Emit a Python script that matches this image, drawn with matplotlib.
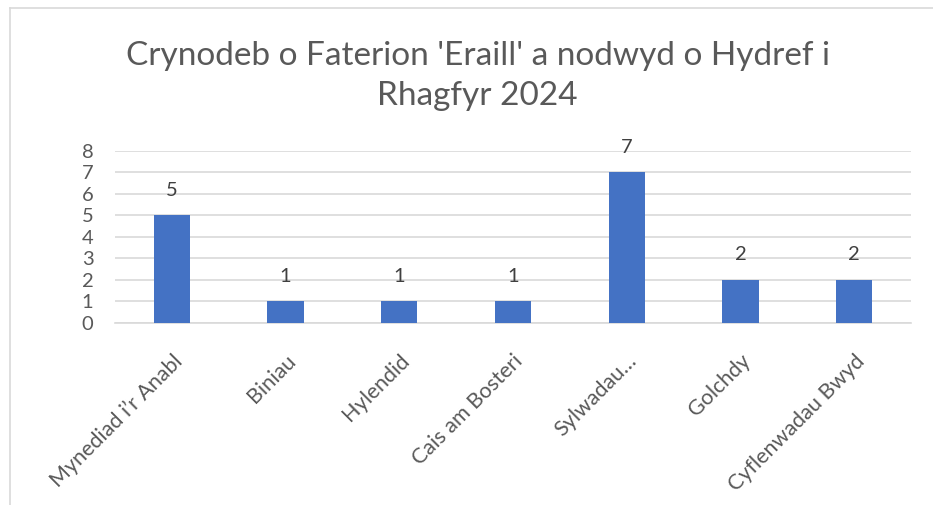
import matplotlib
matplotlib.use("Agg")
import matplotlib.pyplot as plt
from matplotlib.lines import Line2D

categories = ["Mynediad i’r Anabl", "Biniau", "Hylendid", "Cais am Bosteri",
              "Sylwadau…", "Golchdy", "Cyflenwadau Bwyd"]
values = [5, 1, 1, 1, 7, 2, 2]
yticks = [0, 1, 2, 3, 4, 5, 6, 7, 8]
title = "Crynodeb o Faterion 'Eraill' a nodwyd o Hydref i\nRhagfyr 2024"

plt.rcParams['font.family'] = ['Lato', 'DejaVu Sans']

fig = plt.figure(figsize=(9.33, 5.05), dpi=100)
ax = fig.add_axes([0.1233, 0.3604, 0.8531, 0.3406])

x = list(range(len(categories)))
bars = ax.bar(x, values, width=0.32, color="#4472C4", zorder=3)
for xi, v in zip(x, values):
    ax.annotate(str(v), (xi, v), xytext=(0, 12), textcoords="offset points",
                ha="center", va="bottom", fontsize=14.5, color="#404040")

ax.set_xlim(-0.5, len(categories) - 0.5)
ax.set_ylim(0, 8)
ax.set_yticks(yticks)
ax.set_yticklabels([str(t) for t in yticks], fontsize=14.5, color="#595959")
ax.set_xticks(x)
ax.set_xticklabels(categories, rotation=45, ha="right", rotation_mode="anchor",
                   fontsize=15.5, color="#595959")
ax.tick_params(axis="both", length=0)
ax.tick_params(axis="x", pad=20)
ax.tick_params(axis="y", pad=24)
for lbl in ax.get_yticklabels():
    lbl.set_ha("left")
ax.grid(axis="y", color="#D9D9D9", linewidth=1.2, zorder=0)
for s in ["top", "right", "left"]:
    ax.spines[s].set_visible(False)
ax.spines["bottom"].set_color("#D9D9D9")
ax.spines["bottom"].set_linewidth(1.2)

fig.text(0.512, 0.85, title, ha="center", va="center", fontsize=24,
         color="#595959", linespacing=1.4)

# chart frame (left and top edges visible)
fig.add_artist(Line2D([10/933, 10/933], [0, 1 - 8/505], transform=fig.transFigure,
                      color="#D9D9D9", linewidth=1.2))
fig.add_artist(Line2D([10/933, 1], [1 - 8/505, 1 - 8/505], transform=fig.transFigure,
                      color="#D9D9D9", linewidth=1.2))

fig.savefig("out.png", dpi=100, facecolor="white")
